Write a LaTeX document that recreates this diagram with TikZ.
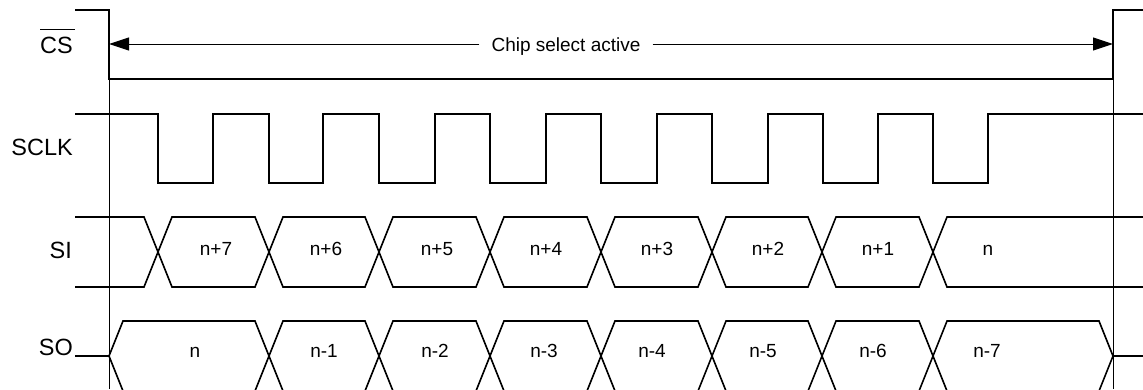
\documentclass[tikz,border=0pt]{standalone}
\usepackage{fontspec}
\setmainfont{Liberation Sans}
\usetikzlibrary{arrows.meta}
\begin{document}
\begin{tikzpicture}[x=1pt,y=-1pt,
  sig/.style={line width=1.6pt,line join=miter},
  guide/.style={line width=1pt},
  lbl/.style={inner sep=0pt,anchor=base east,font=\fontsize{23.5}{28}\selectfont},
  val/.style={inner sep=0pt,anchor=base,font=\fontsize{19}{23}\selectfont},
  tip/.style={-{Triangle[length=20pt,width=13pt]},line width=1pt}]
\clip (0,0) rectangle (1143,389);
\fill[white] (0,0) rectangle (1143,389);

% signal labels
\node[lbl] (cs) at (73,53) {\makebox[0pt][l]{\rule[23pt]{35pt}{1pt}}CS};
\node[lbl] (sclk) at (73,155) {SCLK};
\node[lbl] (si) at (72,258) {SI};
\node[lbl] (so) at (73,355) {SO};

% guide lines
\draw[guide] (109,10) -- (109,389);
\draw[guide] (1113,10) -- (1113,389);

% chip select
\draw[sig] (75,10) -- (109,10) -- (109,79) -- (1113,79) -- (1113,10) -- (1143,10);
\coordinate (a) at (109,44);
\coordinate (b) at (1113,44);
\node[val,inner xsep=12pt] (txt) at (566,51) {Chip select active};
\draw[tip] (txt.west |- a) -- (a);
\draw[tip] (txt.east |- b) -- (b);

% SCLK
\draw[sig] (75,114) -- (158,114) -- (158,183) -- (213,183) -- (213,114)
  -- (269,114) -- (269,183) -- (323,183) -- (323,114)
  -- (379,114) -- (379,183) -- (435,183) -- (435,114)
  -- (490,114) -- (490,183) -- (546,183) -- (546,114)
  -- (601,114) -- (601,183) -- (657,183) -- (657,114)
  -- (712,114) -- (712,183) -- (768,183) -- (768,114)
  -- (823,114) -- (823,183) -- (878,183) -- (878,114)
  -- (933,114) -- (933,183) -- (988,183) -- (988,114) -- (1143,114);

% SI
\draw[sig] (75,217) -- (144,217) -- (172,287) -- (255,287) -- (283,217)
  -- (365,217) -- (393,287) -- (476,287) -- (504,217) -- (587,217) -- (615,287)
  -- (698,287) -- (726,217) -- (808,217) -- (836,287) -- (919,287) -- (947,217) -- (1143,217);
\draw[sig] (75,287) -- (144,287) -- (172,217) -- (255,217) -- (283,287)
  -- (365,287) -- (393,217) -- (476,217) -- (504,287) -- (587,287) -- (615,217)
  -- (698,217) -- (726,287) -- (808,287) -- (836,217) -- (919,217) -- (947,287) -- (1143,287);
\foreach \t/\x [count=\i] in {n+7/216,n+6/326,n+5/437,n+4/546,n+3/657,n+2/768,n+1/878,n/988}
  \node[val] (si\i) at (\x,255) {\t};

% SO
\draw[sig] (75,356) -- (109,356) -- (123,321) -- (255,321) -- (283,391)
  -- (365,391) -- (393,321) -- (476,321) -- (504,391) -- (587,391) -- (615,321)
  -- (698,321) -- (726,391) -- (808,391) -- (836,321) -- (919,321) -- (947,391)
  -- (1099,391) -- (1113,356) -- (1143,356);
\draw[sig] (109,356) -- (123,391) -- (255,391) -- (283,321)
  -- (365,321) -- (393,391) -- (476,391) -- (504,321) -- (587,321) -- (615,391)
  -- (698,391) -- (726,321) -- (808,321) -- (836,391) -- (919,391) -- (947,321)
  -- (1099,321) -- (1113,356);
\foreach \t/\x [count=\i] in {n/195,n-1/324,n-2/435,n-3/544,n-4/652,n-5/763,n-6/873,n-7/987}
  \node[val] (so\i) at (\x,357) {\t};
\end{tikzpicture}
\end{document}
